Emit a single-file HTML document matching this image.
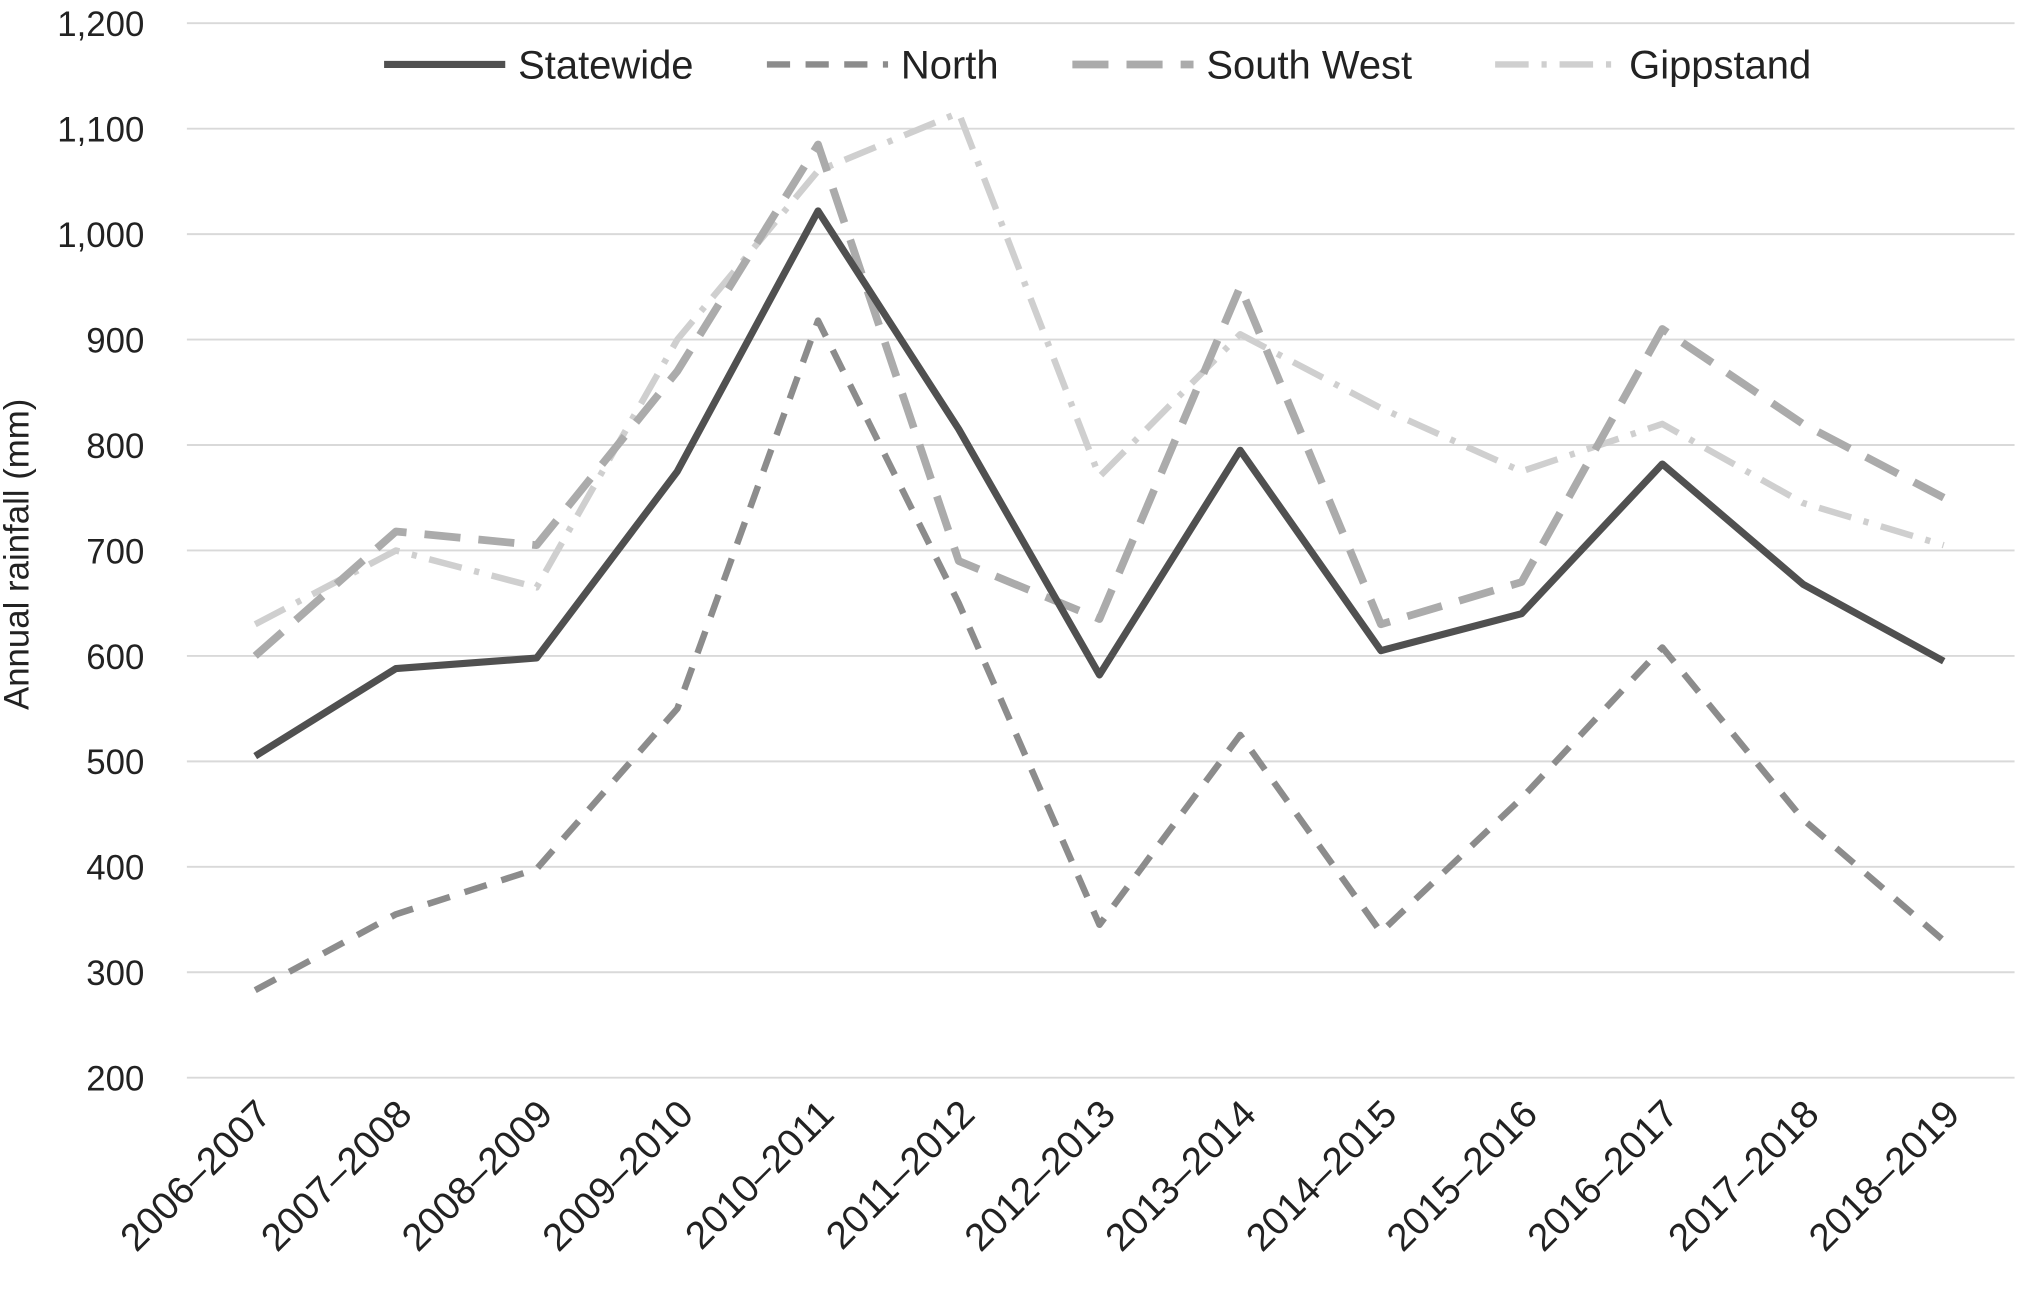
<!DOCTYPE html>
<html><head><meta charset="utf-8"><style>
html,body{margin:0;padding:0;background:#fff;}
svg{display:block;font-family:"Liberation Sans",sans-serif;}
</style></head><body>
<svg id="chart" width="2021" height="1293" viewBox="0 0 1568 1003" preserveAspectRatio="none">
<g id="grid"></g>
<g id="yticks"></g>
<g id="xticks"></g>
<text transform="translate(22,430) rotate(-90)" text-anchor="middle" font-size="27" fill="#222">Annual rainfall (mm)</text>
<g id="series"></g>
<g id="legend"></g>
</svg>
<script>
const categories=["2006–2007","2007–2008","2008–2009","2009–2010","2010–2011","2011–2012","2012–2013","2013–2014","2014–2015","2015–2016","2016–2017","2017–2018","2018–2019"];
const statewide=[505,588,598,775,1022,815,582,795,605,640,782,668,595];
const north=[283,355,398,550,918,650,345,525,338,465,608,445,330];
const southWest=[600,718,705,870,1085,690,635,950,630,670,910,820,750];
const gippsland=[630,700,665,900,1060,1115,770,905,835,775,820,745,705];
const seriesNames=["Statewide","North","South West","Gippstand"];
const yTicks=[200,300,400,500,600,700,800,900,1000,1100,1200];

const NS="http://www.w3.org/2000/svg";
const yScale=v=>836-(v-200)*0.818;
const xScale=i=>198+i*109.17;
function mk(tag,attrs,parent){const e=document.createElementNS(NS,tag);for(const k in attrs)e.setAttribute(k,attrs[k]);parent.appendChild(e);return e;}
const grid=document.getElementById('grid'),yt=document.getElementById('yticks'),xt=document.getElementById('xticks');
yTicks.forEach(v=>{
  const l=mk('line',{x1:145,x2:1563,y1:yScale(v),y2:yScale(v),stroke:'#d9d9d9','stroke-width':1.5},grid);
  
  
  const t=mk('text',{x:112,y:yScale(v)+10,'text-anchor':'end','font-size':27,fill:'#222'},yt);
  t.textContent=v.toLocaleString('en-US');
  
  
});
categories.forEach((c,i)=>{
  const x=xScale(i)+14,y=866;
  const t=mk('text',{x:x,y:y,'text-anchor':'end','font-size':30,fill:'#222',transform:`rotate(-45 ${x} ${y})`},xt);
  t.textContent=c;
  
  
});
const styles=[
 {data:statewide,stroke:'#505050',w:5.5,dash:''},
 {data:north,stroke:'#8c8c8c',w:5,dash:'18,12'},
 {data:southWest,stroke:'#ababab',w:6,dash:'28,14'},
 {data:gippsland,stroke:'#cfcfcf',w:5,dash:'26,10,4,10'}
];
const sg=document.getElementById('series');
[3,2,1,0].forEach(k=>{
  const s=styles[k];
  const pts=s.data.map((v,i)=>xScale(i)+','+yScale(v)).join(' ');
  const p=mk('polyline',{points:pts,fill:'none',stroke:s.stroke,'stroke-width':s.w,'stroke-dasharray':s.dash,'stroke-linejoin':'round'},sg);
  
  
});
const lg=document.getElementById('legend');
const lx=[298,595,832,1160];
styles.forEach((s,k)=>{
  const l=mk('line',{x1:lx[k],x2:lx[k]+94,y1:50,y2:50,stroke:s.stroke,'stroke-width':s.w,'stroke-dasharray':s.dash},lg);
  
  
  const t=mk('text',{x:lx[k]+104,y:61,'font-size':31,fill:'#222'},lg);
  t.textContent=seriesNames[k];
  
  
});
</script>
</body></html>
